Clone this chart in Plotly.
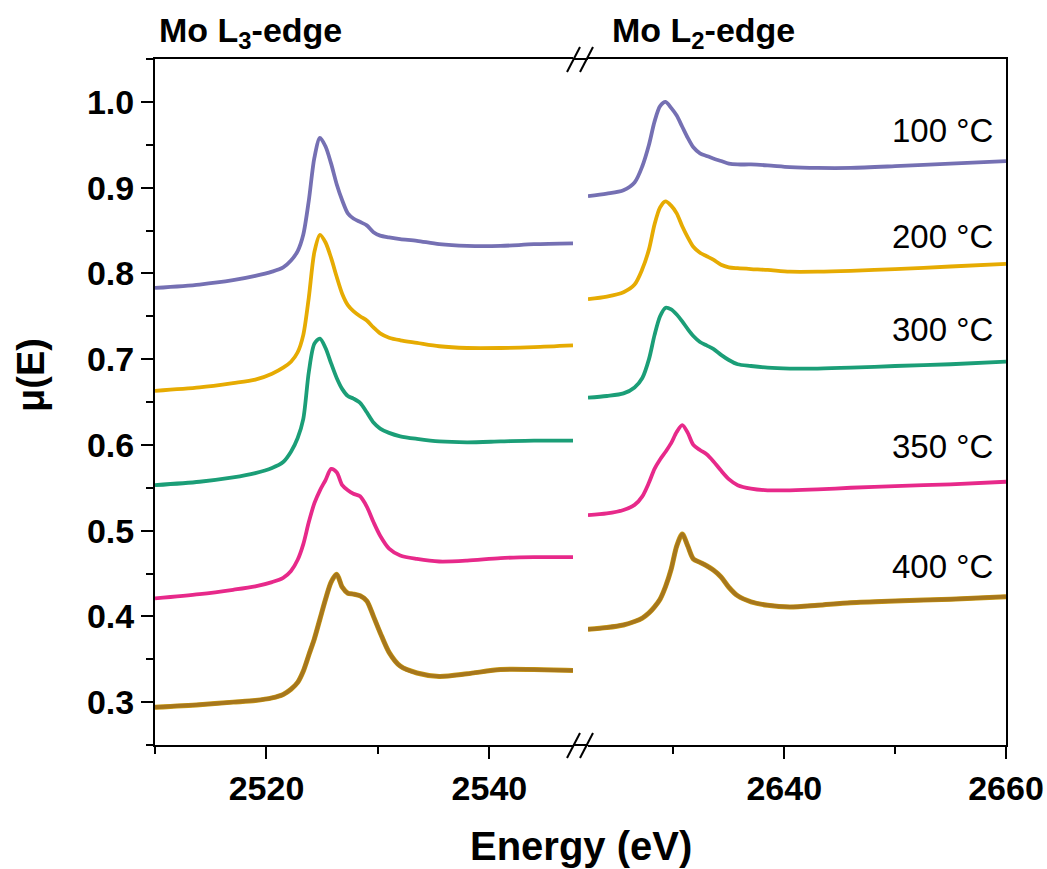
import plotly.graph_objects as go

# ---------------- data ----------------
L3_ENERGY = [2510, 2514, 2517, 2519, 2520.5, 2521.5, 2522.2, 2522.8, 2523.3, 2523.8,
             2524.3, 2524.8, 2525.3, 2525.8, 2526.3, 2526.8, 2527.3, 2527.8, 2528.4, 2529.0,
             2529.6, 2530.2, 2531.0, 2532.0, 2533.5, 2535.5, 2538.0, 2541.0, 2544.0, 2547.5]

L3_MU_100C = [0.783, 0.787, 0.792, 0.797, 0.802, 0.807, 0.815, 0.826, 0.845, 0.885,
              0.935, 0.958, 0.948, 0.928, 0.904, 0.885, 0.870, 0.864, 0.860, 0.856,
              0.848, 0.844, 0.842, 0.840, 0.838, 0.834, 0.832, 0.832, 0.834, 0.835]
L3_MU_200C = [0.663, 0.667, 0.672, 0.676, 0.683, 0.690, 0.697, 0.708, 0.728, 0.772,
              0.825, 0.845, 0.836, 0.818, 0.796, 0.776, 0.763, 0.756, 0.750, 0.745,
              0.737, 0.730, 0.725, 0.722, 0.719, 0.715, 0.713, 0.713, 0.714, 0.716]
L3_MU_300C = [0.553, 0.557, 0.562, 0.567, 0.573, 0.580, 0.592, 0.608, 0.630, 0.685,
              0.718, 0.724, 0.713, 0.695, 0.678, 0.665, 0.657, 0.654, 0.649, 0.638,
              0.626, 0.619, 0.614, 0.610, 0.607, 0.604, 0.603, 0.604, 0.605, 0.605]
L3_MU_350C = [0.421, 0.426, 0.431, 0.435, 0.440, 0.445, 0.453, 0.466, 0.484, 0.510,
              0.532, 0.547, 0.559, 0.572, 0.568, 0.553, 0.547, 0.543, 0.540, 0.528,
              0.510, 0.494, 0.479, 0.471, 0.467, 0.464, 0.465, 0.468, 0.469, 0.469]
L3_MU_400C = [0.294, 0.297, 0.300, 0.302, 0.305, 0.309, 0.315, 0.323, 0.336, 0.355,
              0.374, 0.397, 0.420, 0.440, 0.449, 0.434, 0.427, 0.426, 0.424, 0.418,
              0.400, 0.381, 0.358, 0.342, 0.334, 0.330, 0.333, 0.338, 0.338, 0.337]

L2_ENERGY = [2622.3, 2624, 2625.5, 2626.5, 2627.2, 2627.8, 2628.3, 2628.8, 2629.3, 2629.8,
             2630.3, 2630.8, 2631.3, 2631.8, 2632.4, 2633.0, 2633.6, 2634.3, 2635.0, 2635.8,
             2637.0, 2638.5, 2640.5, 2643, 2646, 2650, 2655, 2660]

L2_MU_100C = [0.890, 0.893, 0.897, 0.906, 0.925, 0.950, 0.977, 0.995, 1.000, 0.993,
              0.984, 0.971, 0.958, 0.947, 0.940, 0.937, 0.934, 0.931, 0.928, 0.927,
              0.927, 0.926, 0.924, 0.923, 0.923, 0.925, 0.928, 0.931]
L2_MU_200C = [0.770, 0.773, 0.778, 0.787, 0.805, 0.828, 0.857, 0.877, 0.884, 0.879,
              0.870, 0.855, 0.842, 0.831, 0.824, 0.820, 0.816, 0.810, 0.807, 0.806,
              0.805, 0.804, 0.802, 0.802, 0.803, 0.805, 0.808, 0.811]
L2_MU_300C = [0.655, 0.657, 0.660, 0.667, 0.678, 0.700, 0.728, 0.750, 0.760, 0.758,
              0.752, 0.744, 0.735, 0.727, 0.720, 0.716, 0.712, 0.705, 0.699, 0.694,
              0.692, 0.690, 0.689, 0.689, 0.690, 0.692, 0.694, 0.697]
L2_MU_350C = [0.518, 0.520, 0.524, 0.530, 0.540, 0.556, 0.572, 0.583, 0.592, 0.602,
              0.615, 0.623, 0.614, 0.600, 0.594, 0.589, 0.581, 0.570, 0.560, 0.553,
              0.549, 0.547, 0.547, 0.548, 0.550, 0.552, 0.554, 0.557]
L2_MU_400C = [0.385, 0.387, 0.390, 0.394, 0.398, 0.404, 0.411, 0.420, 0.435, 0.455,
              0.482, 0.496, 0.482, 0.467, 0.463, 0.459, 0.454, 0.446, 0.434, 0.424,
              0.417, 0.413, 0.411, 0.413, 0.416, 0.418, 0.420, 0.423]

TEMP_LABELS = ["100 °C", "200 °C", "300 °C", "350 °C", "400 °C"]
LABEL_Y = [0.967, 0.843, 0.735, 0.598, 0.458]
COLORS = ["#7570B3", "#E6AB02", "#1B9E77", "#E7298A", "#A6761D"]
UNDER_COLORS = [None, None, None, None, "#C99A12"]

L3_SERIES = [L3_MU_100C, L3_MU_200C, L3_MU_300C, L3_MU_350C, L3_MU_400C]
L2_SERIES = [L2_MU_100C, L2_MU_200C, L2_MU_300C, L2_MU_350C, L2_MU_400C]

FONT = "Liberation Sans, Arial, Helvetica, sans-serif"

fig = go.Figure()
for i in range(len(TEMP_LABELS)):
    for xs, ys, xa, ya in [(L3_ENERGY, L3_SERIES[i], "x", "y"),
                           (L2_ENERGY, L2_SERIES[i], "x2", "y2")]:
        if UNDER_COLORS[i]:
            fig.add_trace(go.Scatter(x=xs, y=ys, mode="lines", xaxis=xa, yaxis=ya,
                                     line=dict(color=UNDER_COLORS[i], width=5, shape="spline", smoothing=0.8),
                                     showlegend=False, hoverinfo="skip"))
        fig.add_trace(go.Scatter(x=xs, y=ys, mode="lines", xaxis=xa, yaxis=ya,
                                 line=dict(color=COLORS[i], width=3.8, shape="spline", smoothing=0.8),
                                 name=TEMP_LABELS[i], showlegend=False))

L, R, T, B = 155, 41, 59, 124
W, H = 1047, 869
pw, ph = W - L - R, H - T - B
def px(xp):
    return (xp - L) / pw
def py(yp):
    return (H - B - yp) / ph

d1 = px(573)
d2 = px(588)

TICKFONT = dict(family=FONT, size=34, color="black", weight="bold")

axis_common = dict(showline=True, linecolor="black", linewidth=2, mirror=True,
                   showgrid=False, zeroline=False, ticks="outside", ticklen=12,
                   tickwidth=2, tickcolor="black", tickfont=TICKFONT, automargin=False)

fig.update_layout(
    width=W, height=H, margin=dict(l=L, r=R, t=T, b=B, autoexpand=False),
    plot_bgcolor="white", paper_bgcolor="white",
    font=dict(family=FONT, color="black"),
    xaxis=dict(domain=[0, d1], range=[2510, 2547.5], anchor="y",
               tickvals=[2520, 2540],
               minor=dict(tickvals=[2510, 2530], ticks="outside", ticklen=7, tickwidth=2, tickcolor="black"),
               **axis_common),
    xaxis2=dict(domain=[d2, 1], range=[2622.3, 2660.001], anchor="y2",
                tickvals=[2640, 2660],
                minor=dict(tickvals=[2630, 2650], ticks="outside", ticklen=7, tickwidth=2, tickcolor="black"),
                **axis_common),
    yaxis=dict(range=[0.25, 1.05], anchor="x", dtick=0.1, tickformat=".1f",
               minor=dict(dtick=0.05, ticks="outside", ticklen=7, tickwidth=2, tickcolor="black"),
               showline=True, linecolor="black", linewidth=2, mirror=False,
               showgrid=False, zeroline=False, ticks="outside", ticklen=12,
               tickwidth=2, tickcolor="black", tickfont=TICKFONT, automargin=False),
    yaxis2=dict(range=[0.25, 1.05], anchor="x2", side="right", matches="y",
                showline=True, linecolor="black", linewidth=2, automargin=False,
                showticklabels=False, ticks="", showgrid=False, zeroline=False),
)

shapes = []
# close the axis lines across the break
for yy in (0, 1):
    shapes.append(dict(type="line", xref="paper", yref="paper", x0=d1, x1=d2, y0=yy, y1=yy,
                       line=dict(color="black", width=2)))
# break slashes
for ycen in (745, 59):
    for x0p in (567, 580):
        shapes.append(dict(type="line", xref="paper", yref="paper",
                           x0=px(x0p), y0=py(ycen + 13), x1=px(x0p + 13), y1=py(ycen - 12),
                           line=dict(color="black", width=2)))
fig.update_layout(shapes=shapes)

ann = []
for lab, yv in zip(TEMP_LABELS, LABEL_Y):
    ann.append(dict(x=2659.0, y=yv, xref="x2", yref="y2", text=lab, showarrow=False,
                    xanchor="right", yanchor="middle",
                    font=dict(family=FONT, size=33, color="black")))
ann.append(dict(x=px(157), y=py(32), xref="paper", yref="paper",
                text="<b>Mo L<sub>3</sub>-edge</b>", showarrow=False,
                xanchor="left", yanchor="middle", font=dict(family=FONT, size=34, color="black")))
ann.append(dict(x=px(610), y=py(32), xref="paper", yref="paper",
                text="<b>Mo L<sub>2</sub>-edge</b>", showarrow=False,
                xanchor="left", yanchor="middle", font=dict(family=FONT, size=34, color="black")))
ann.append(dict(x=0.5, y=py(846), xref="paper", yref="paper",
                text="<b>Energy (eV)</b>", showarrow=False,
                xanchor="center", yanchor="middle", font=dict(family=FONT, size=40, color="black")))
ann.append(dict(x=px(31), y=py(375), xref="paper", yref="paper",
                text="<b>μ(E)</b>", showarrow=False, textangle=-90,
                xanchor="center", yanchor="middle", font=dict(family=FONT, size=38, color="black")))
fig.update_layout(annotations=ann)

fig.write_html("out.html")
